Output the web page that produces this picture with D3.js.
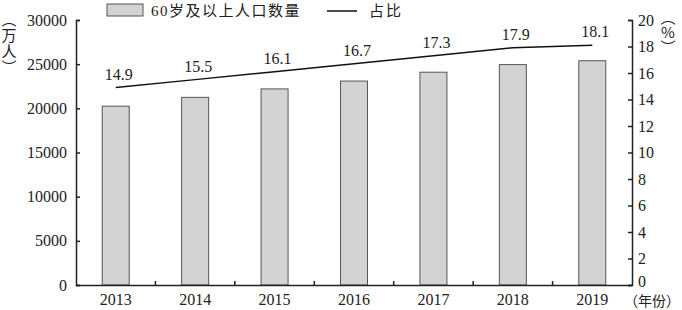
<!DOCTYPE html>
<html>
<head>
<meta charset="utf-8">
<script src="https://cdn.jsdelivr.net/npm/d3@7"></script>
<style>
  body { margin: 0; background: #fff; }
  svg text { font-family: "Liberation Serif", "Noto Sans CJK SC", serif; fill: #222; }
</style>
</head>
<body>
<svg id="chart" width="682" height="310"></svg>
<script>
const years = ["2013", "2014", "2015", "2016", "2017", "2018", "2019"];
const population = [20243, 21242, 22200, 23086, 24090, 24949, 25388];
const share = [14.9, 15.5, 16.1, 16.7, 17.3, 17.9, 18.1];
const leftTicks = [0, 5000, 10000, 15000, 20000, 25000, 30000];
const rightTicks = [0, 2, 4, 6, 8, 10, 12, 14, 16, 18, 20];

const margin = { top: 20, right: 50, bottom: 25, left: 76 },
  width = 682 - margin.left - margin.right,
  height = 310 - margin.top - margin.bottom;

const svg = d3.select("#chart");
const g = svg.append("g").attr("transform", `translate(${margin.left},${margin.top})`);

const x = d3.scaleBand().domain(years).range([0, width]);
const yL = d3.scaleLinear().domain([0, 30000]).range([height, 0]);
const yR = d3.scaleLinear().domain([0, 20]).range([height, 0]);

const data = years.map((d, i) => ({ year: d, pop: population[i], pct: share[i] }));

// bars
g.selectAll(".bar")
  .data(data)
  .enter()
  .append("rect")
  .attr("class", "bar")
  .attr("x", (d) => x(d.year) + x.bandwidth() / 2 - 13.5)
  .attr("y", (d) => yL(d.pop))
  .attr("width", 27)
  .attr("height", (d) => height - yL(d.pop))
  .attr("fill", "#d3d3d3")
  .attr("stroke", "#555")
  .attr("stroke-width", 1);

// line
const line = d3.line()
  .x((d) => x(d.year) + x.bandwidth() / 2)
  .y((d) => yR(d.pct));
g.append("path")
  .datum(data)
  .attr("d", line)
  .attr("fill", "none")
  .attr("stroke", "#111")
  .attr("stroke-width", 1.5);

g.selectAll(".lbl")
  .data(data)
  .enter()
  .append("text")
  .attr("class", "lbl")
  .attr("x", (d) => x(d.year) + x.bandwidth() / 2 + 3)
  .attr("y", (d) => yR(d.pct) - 8)
  .attr("text-anchor", "middle")
  .style("font-size", "16px")
  .text((d) => d.pct.toFixed(1));

// left axis
const axL = g.append("g")
  .call(d3.axisRight(yL).tickValues(leftTicks).tickSize(4).tickFormat((d) => d));
axL.select(".domain").attr("stroke", "#222").attr("stroke-width", 1.5);
axL.selectAll(".tick line").attr("stroke", "#222").attr("stroke-width", 1.5);
axL.selectAll(".tick text")
  .attr("x", -9)
  .attr("text-anchor", "end")
  .style("font-size", "16px")
  .style("font-family", "Liberation Serif");

// right axis
const axR = g.append("g")
  .attr("transform", `translate(${width},0)`)
  .call(d3.axisLeft(yR).tickValues(rightTicks).tickSize(4));
axR.select(".domain").attr("stroke", "#222").attr("stroke-width", 1.5);
axR.selectAll(".tick line").attr("stroke", "#222").attr("stroke-width", 1.5);
axR.selectAll(".tick text")
  .attr("x", 6)
  .attr("dy", (d) => d === 0 ? "0.1em" : "0.32em")
  .attr("text-anchor", "start")
  .style("font-size", "16px")
  .style("font-family", "Liberation Serif");

// bottom axis
const axB = g.append("g")
  .attr("transform", `translate(0,${height})`)
  .call(d3.axisBottom(x).tickSize(0).tickPadding(9));
axB.select(".domain").attr("stroke", "#222").attr("stroke-width", 1.5);
axB.selectAll(".tick text").style("font-size", "16px").style("font-family", "Liberation Serif");
g.selectAll(".sep")
  .data(years.slice(1))
  .enter()
  .append("line")
  .attr("class", "sep")
  .attr("x1", (d) => x(d))
  .attr("x2", (d) => x(d))
  .attr("y1", height)
  .attr("y2", height - 4)
  .attr("stroke", "#222")
  .attr("stroke-width", 1.5);

// axis titles (vertical)
svg.append("text")
  .attr("x", 9)
  .attr("y", 12)
  .style("writing-mode", "vertical-rl")
  .style("font-size", "15px")
  .style("font-family", "Noto Sans CJK SC")
  .style("letter-spacing", "1px")
  .text("（万人）");

svg.append("text")
  .attr("x", 668)
  .attr("y", 10)
  .style("writing-mode", "vertical-rl")
  .style("text-orientation", "upright")
  .style("font-size", "15px")
  .style("font-family", "Noto Sans CJK SC")
  .text("（%）");

svg.append("text")
  .attr("x", 652)
  .attr("y", 306)
  .attr("text-anchor", "middle")
  .style("font-size", "14px")
  .style("font-family", "Noto Sans CJK SC")
  .text("（年份）");

// legend
const legend = svg.append("g");
legend.append("rect")
  .attr("x", 107).attr("y", 4).attr("width", 36).attr("height", 12)
  .attr("fill", "#d3d3d3").attr("stroke", "#555");
legend.append("text")
  .attr("x", 151).attr("y", 16)
  .style("font-size", "15px")
  .style("letter-spacing", "1.5px")
  .text("60岁及以上人口数量");
legend.append("line")
  .attr("x1", 327).attr("x2", 357).attr("y1", 11).attr("y2", 11)
  .attr("stroke", "#111").attr("stroke-width", 1.5);
legend.append("text")
  .attr("x", 369).attr("y", 16)
  .style("font-size", "15px")
  .style("letter-spacing", "2px")
  .text("占比");
</script>
</body>
</html>
